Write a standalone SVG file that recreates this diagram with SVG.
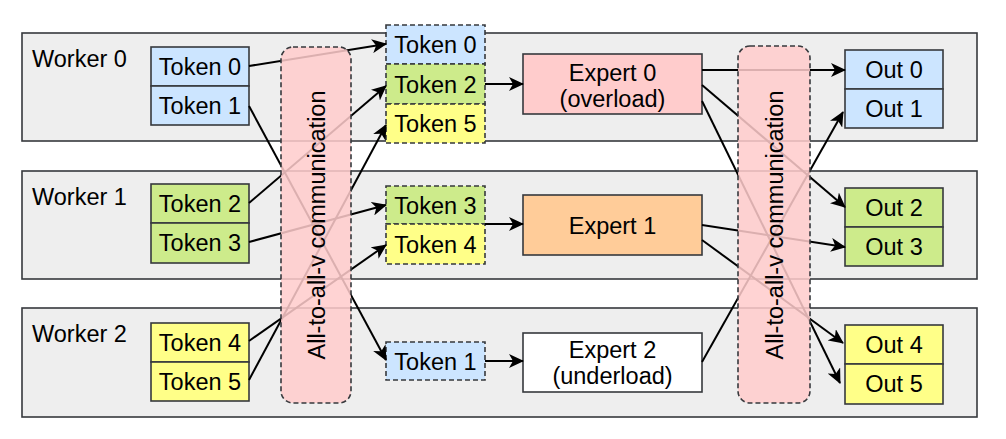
<svg xmlns="http://www.w3.org/2000/svg" width="1006" height="439" viewBox="0 0 1006 439">
<defs>
<style>
text{font-family:"Liberation Sans",Arial,sans-serif;font-size:23.5px;fill:#000}
.c{text-anchor:middle}
.worker{fill:#eeeeee;stroke:#36393d;stroke-width:1.6}
.box{stroke:#36393d;stroke-width:1.6}
.dash{stroke:#36393d;stroke-width:1.6;stroke-dasharray:5 3}
.blue{fill:#cce5ff}.green{fill:#cdeb8b}.yellow{fill:#ffff88}.pink{fill:#ffcccc}.orange{fill:#ffcc99}.white{fill:#ffffff}
.edge{fill:none;stroke:#000;stroke-width:2;marker-end:url(#arr)}
.comm{fill:#ffcccc;fill-opacity:0.86;stroke:#36393d;stroke-width:1.6;stroke-dasharray:5 3}
</style>
<marker id="arr" viewBox="0 0 15 14" markerWidth="15" markerHeight="14" refX="14" refY="7" orient="auto" markerUnits="userSpaceOnUse">
<path d="M0,0 L15,7 L0,14 L4,7 z" fill="#000"/>
</marker>
</defs>

<g id="workers">
<g id="worker0"><rect class="worker" x="22" y="33" width="955" height="108"/><text x="32" y="67">Worker 0</text></g>
<g id="worker1"><rect class="worker" x="22" y="171" width="955" height="108"/><text x="32" y="205">Worker 1</text></g>
<g id="worker2"><rect class="worker" x="22" y="308" width="955" height="109"/><text x="32" y="342">Worker 2</text></g>
</g>

<g id="src-tokens">
<g id="tok0"><rect class="box blue" x="151" y="47" width="98" height="39"/><text class="c" x="200" y="74.5">Token 0</text></g>
<g id="tok1"><rect class="box blue" x="151" y="86" width="98" height="39"/><text class="c" x="200" y="113.5">Token 1</text></g>
<g id="tok2"><rect class="box green" x="151" y="184" width="98" height="39"/><text class="c" x="200" y="211.5">Token 2</text></g>
<g id="tok3"><rect class="box green" x="151" y="223" width="98" height="40"/><text class="c" x="200" y="251">Token 3</text></g>
<g id="tok4"><rect class="box yellow" x="151" y="323" width="98" height="39"/><text class="c" x="200" y="350.5">Token 4</text></g>
<g id="tok5"><rect class="box yellow" x="151" y="362" width="98" height="39"/><text class="c" x="200" y="389.5">Token 5</text></g>
</g>

<g id="dst-tokens">
<g id="dtok0"><rect class="dash blue" x="386" y="25" width="99" height="39"/><text class="c" x="435.5" y="52.5">Token 0</text></g>
<g id="dtok2"><rect class="dash green" x="386" y="64" width="99" height="40"/><text class="c" x="435.5" y="92.5">Token 2</text></g>
<g id="dtok5"><rect class="dash yellow" x="386" y="104" width="99" height="39"/><text class="c" x="435.5" y="131.5">Token 5</text></g>
<g id="dtok3"><rect class="dash green" x="386" y="186" width="99" height="38"/><text class="c" x="435.5" y="213.5">Token 3</text></g>
<g id="dtok4"><rect class="dash yellow" x="386" y="224" width="99" height="40"/><text class="c" x="435.5" y="252.5">Token 4</text></g>
<g id="dtok1"><rect class="dash blue" x="386" y="342" width="99" height="38"/><text class="c" x="435.5" y="369.5">Token 1</text></g>
</g>

<g id="experts">
<g id="expert0"><rect class="box pink" x="523" y="54" width="179" height="60"/><text class="c" x="612.5" y="80.5">Expert 0</text><text class="c" x="612.5" y="107">(overload)</text></g>
<g id="expert1"><rect class="box orange" x="523" y="195" width="179" height="60"/><text class="c" x="612.5" y="233.5">Expert 1</text></g>
<g id="expert2"><rect class="box white" x="523" y="333" width="179" height="59"/><text class="c" x="612.5" y="358">Expert 2</text><text class="c" x="612.5" y="384">(underload)</text></g>
</g>

<g id="outs">
<g id="out0"><rect class="box blue" x="845" y="50" width="98" height="39"/><text class="c" x="894" y="77.5">Out 0</text></g>
<g id="out1"><rect class="box blue" x="845" y="89" width="98" height="39"/><text class="c" x="894" y="116.5">Out 1</text></g>
<g id="out2"><rect class="box green" x="845" y="188" width="98" height="39"/><text class="c" x="894" y="215.5">Out 2</text></g>
<g id="out3"><rect class="box green" x="845" y="227" width="98" height="39"/><text class="c" x="894" y="254.5">Out 3</text></g>
<g id="out4"><rect class="box yellow" x="845" y="325" width="98" height="39"/><text class="c" x="894" y="352.5">Out 4</text></g>
<g id="out5"><rect class="box yellow" x="845" y="364" width="98" height="40"/><text class="c" x="894" y="392">Out 5</text></g>
</g>

<g id="connectors">
<line class="edge" x1="249" y1="66" x2="386" y2="44"/>
<line class="edge" x1="249" y1="106" x2="386" y2="360"/>
<line class="edge" x1="249" y1="203" x2="386" y2="86"/>
<line class="edge" x1="249" y1="242" x2="386" y2="205"/>
<line class="edge" x1="249" y1="341" x2="386" y2="245"/>
<line class="edge" x1="249" y1="380" x2="386" y2="125"/>
<line class="edge" x1="485" y1="84" x2="523" y2="84"/>
<line class="edge" x1="485" y1="224" x2="523" y2="224"/>
<line class="edge" x1="485" y1="361" x2="523" y2="361"/>
<line class="edge" x1="702" y1="70" x2="845" y2="70"/>
<line class="edge" x1="702" y1="85" x2="845" y2="207"/>
<line class="edge" x1="702" y1="101" x2="840" y2="383"/>
<line class="edge" x1="702" y1="225" x2="845" y2="247"/>
<line class="edge" x1="702" y1="240" x2="843" y2="343"/>
<line class="edge" x1="702" y1="362" x2="843" y2="112"/>
</g>

<g id="comm1"><rect class="comm" x="281" y="47" width="70" height="356" rx="12"/><text class="c" transform="translate(316,225) rotate(-90)" x="0" y="8.5">All-to-all-v communication</text></g>
<g id="comm2"><rect class="comm" x="738" y="46" width="72" height="357" rx="12"/><text class="c" transform="translate(774,225) rotate(-90)" x="0" y="8.5">All-to-all-v communication</text></g>
</svg>
